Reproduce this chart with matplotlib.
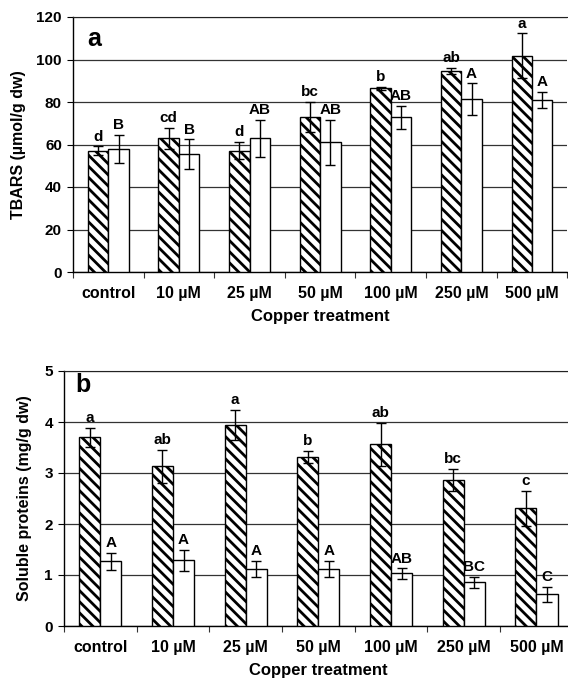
import matplotlib
matplotlib.use("Agg")
import matplotlib.pyplot as plt
import numpy as np

plt.rcParams['font.family'] = ['Liberation Sans', 'DejaVu Sans']
plt.rcParams['font.weight'] = 'bold'
plt.rcParams['hatch.linewidth'] = 2.0

categories = ["control", "10 µM", "25 µM", "50 µM", "100 µM", "250 µM", "500 µM"]

# Panel a: TBARS
tbars_hatched = [57.1, 62.9, 57.1, 73.1, 86.4, 94.6, 101.8]
tbars_hatched_err = [2.0, 5.0, 4.0, 7.0, 0.8, 1.5, 10.5]
tbars_white = [57.8, 55.4, 62.9, 61.0, 72.8, 81.4, 80.9]
tbars_white_err = [6.7, 7.0, 8.6, 10.5, 5.5, 7.4, 3.9]
tbars_hatched_lbl = ["d", "cd", "d", "bc", "b", "ab", "a"]
tbars_white_lbl = ["B", "B", "AB", "AB", "AB", "A", "A"]

# Panel b: soluble proteins
prot_hatched = [3.70, 3.13, 3.94, 3.32, 3.56, 2.86, 2.31]
prot_hatched_err = [0.19, 0.33, 0.29, 0.12, 0.43, 0.22, 0.34]
prot_white = [1.27, 1.29, 1.12, 1.12, 1.03, 0.86, 0.62]
prot_white_err = [0.17, 0.21, 0.16, 0.15, 0.10, 0.11, 0.14]
prot_hatched_lbl = ["a", "ab", "a", "b", "ab", "bc", "c"]
prot_white_lbl = ["A", "A", "A", "A", "AB", "BC", "C"]

W, H = 568, 684
fig = plt.figure(figsize=(W / 100, H / 100), dpi=100)


def panel(rect, hv, he, wv, we, hl, wl, ymax, ystep, ylabel, letter, letter_pos, ylabel_x):
    ax = fig.add_axes(rect)
    n = len(categories)
    centers = np.arange(n) + 0.5
    bw = 0.29
    ax.bar(centers - bw / 2, hv, width=bw, color='white', edgecolor='black',
           hatch='\\\\\\', linewidth=1.0, zorder=3)
    ax.bar(centers + bw / 2, wv, width=bw, color='white', edgecolor='black',
           linewidth=1.0, zorder=3)
    ax.errorbar(centers - bw / 2, hv, yerr=he, fmt='none', ecolor='black',
                elinewidth=1.0, capsize=3.5, capthick=1.0, zorder=4)
    ax.errorbar(centers + bw / 2, wv, yerr=we, fmt='none', ecolor='black',
                elinewidth=1.0, capsize=3.5, capthick=1.0, zorder=4)
    for x, v, e, t in zip(centers - bw / 2, hv, he, hl):
        ax.annotate(t, (x, v + e), xytext=(0, 2), textcoords='offset points',
                    ha='center', va='bottom', fontsize=11, fontweight='bold', zorder=5)
    for x, v, e, t in zip(centers + bw / 2, wv, we, wl):
        ax.annotate(t, (x, v + e), xytext=(0, 2), textcoords='offset points',
                    ha='center', va='bottom', fontsize=11, fontweight='bold', zorder=5)
    ax.set_xlim(0, n)
    ax.set_ylim(0, ymax)
    ax.set_yticks(np.arange(0, ymax + ystep / 2, ystep))
    ax.yaxis.grid(True, color='#333333', linewidth=0.9, zorder=0)
    ax.set_axisbelow(True)
    ax.set_xticks(np.arange(n + 1))
    ax.set_xticklabels([])
    ax.set_xticks(centers, minor=True)
    ax.set_xticklabels(categories, minor=True, fontsize=11.5, fontweight='bold')
    ax.tick_params(axis='x', which='minor', length=0, pad=10)
    ax.tick_params(axis='x', which='major', length=4, width=0.8, direction='out', color='#333333')
    ax.tick_params(axis='y', length=4, width=0.8, labelsize=11, pad=4)
    for lbl in ax.get_yticklabels():
        lbl.set_fontweight('bold')
    ax.spines['right'].set_visible(False)
    ax.spines['top'].set_color('#222222')
    ax.spines['left'].set_linewidth(1.0)
    ax.spines['bottom'].set_linewidth(1.0)
    ax.set_xlabel("Copper treatment", fontsize=12, fontweight='bold', labelpad=6)
    ax.set_ylabel(ylabel, fontsize=11.5, fontweight='bold')
    ax.yaxis.set_label_coords(ylabel_x, 0.5)
    ax.text(letter_pos[0], letter_pos[1], letter, transform=ax.transAxes,
            fontsize=18, fontweight='bold', ha='left', va='center')
    return ax


# panel a geometry (pixels)
la, ra, ta, ba = 73, 567.3, 17, 272
panel([la / W, 1 - ba / H, (ra - la) / W, (ba - ta) / H],
      tbars_hatched, tbars_hatched_err, tbars_white, tbars_white_err,
      tbars_hatched_lbl, tbars_white_lbl, 120, 20, "TBARS (µmol/g dw)", "a",
      (0.028, 0.915), (26 - la) / (ra - la))

lb, rb, tb, bb = 64, 572.8, 371, 626
panel([lb / W, 1 - bb / H, (rb - lb) / W, (bb - tb) / H],
      prot_hatched, prot_hatched_err, prot_white, prot_white_err,
      prot_hatched_lbl, prot_white_lbl, 5, 1, "Soluble proteins (mg/g dw)", "b",
      (0.022, 0.945), (32 - lb) / (rb - lb))

fig.savefig("out.png", dpi=100)
